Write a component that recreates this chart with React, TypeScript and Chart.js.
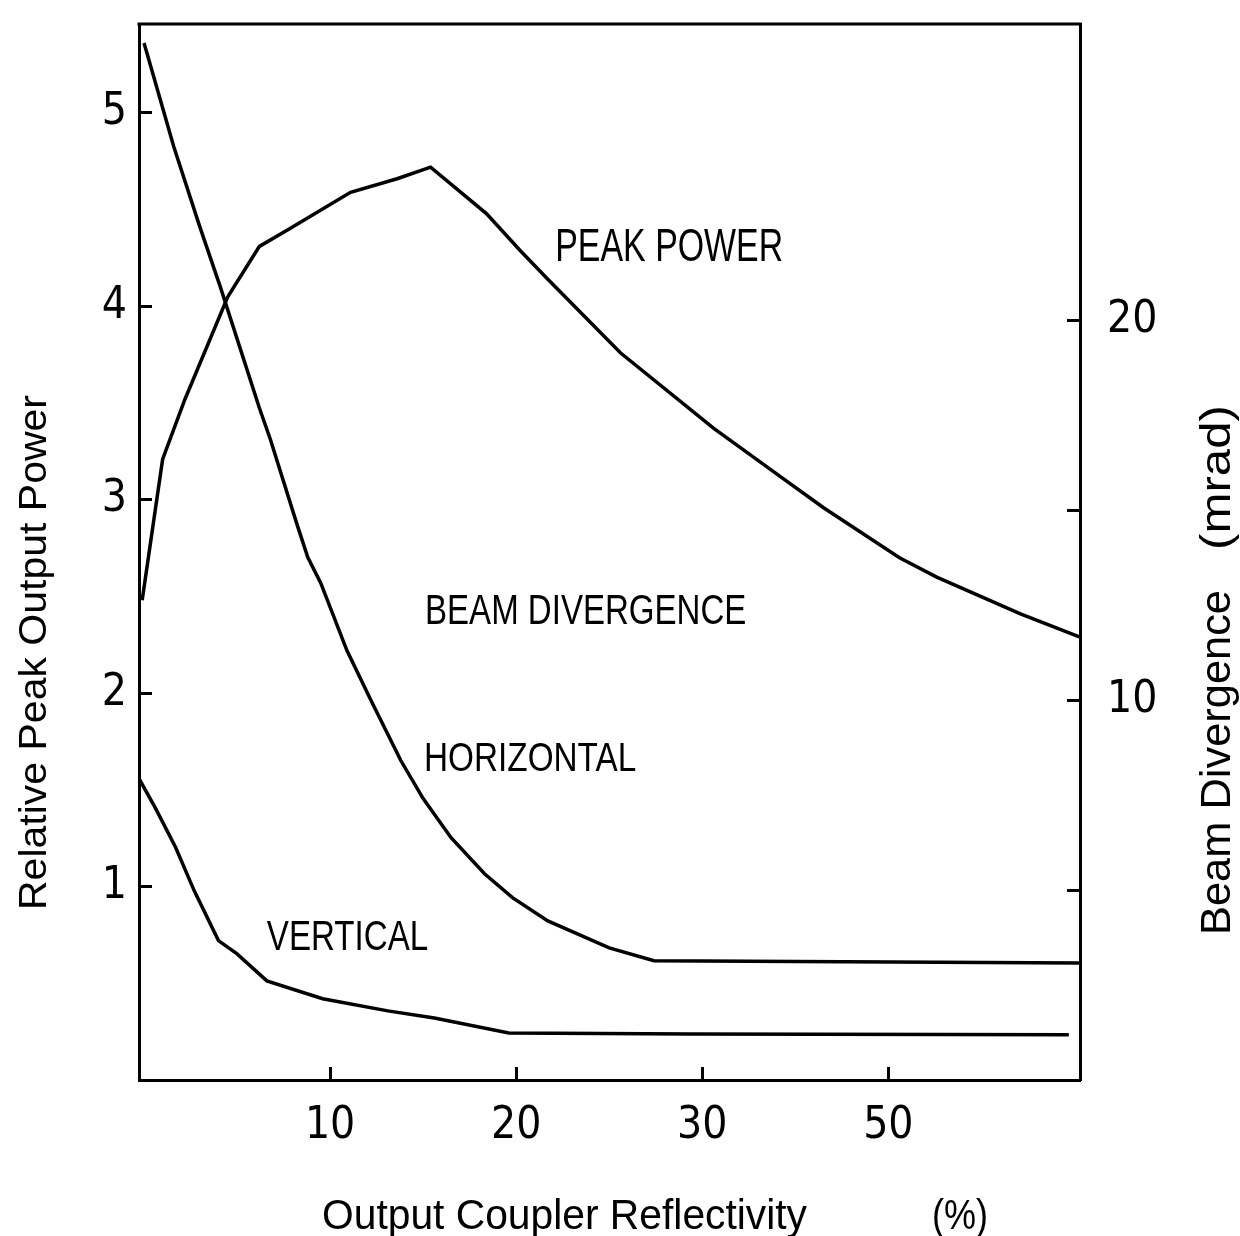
import React, { useEffect, useRef } from "react";
import { Chart, registerables } from "chart.js";

Chart.register(...registerables);

// x positions are in equally spaced category units: 1 -> 10 %, 2 -> 20 %, 3 -> 30 %, 4 -> 50 %
const xTickValues = [1, 2, 3, 4];
const xTickLabels = ["10", "20", "30", "50"];
const leftTickValues = [1, 2, 3, 4, 5];
const rightTickValues = [5, 10, 15, 20];
const rightTickLabels = ["", "10", "", "20"];

// Relative peak output power (left axis)
const peakX = [-0.01, 0.1, 0.22, 0.45, 0.62, 0.78, 1.11, 1.36, 1.54, 1.84, 2.02, 2.17, 2.56, 3.06, 3.42, 3.65, 4.06, 4.26, 4.71, 5.03];
const peakPower = [2.48, 3.21, 3.52, 4.05, 4.31, 4.4, 4.59, 4.66, 4.72, 4.48, 4.29, 4.14, 3.76, 3.37, 3.12, 2.96, 2.7, 2.6, 2.41, 2.29];

// Horizontal beam divergence, mrad (right axis)
const horizX = [0.0, 0.16, 0.3, 0.41, 0.62, 0.68, 0.82, 0.88, 0.95, 1.09, 1.22, 1.38, 1.5, 1.65, 1.83, 1.98, 2.17, 2.5, 2.74, 5.03];
const horizDiv = [27.3, 24.57, 22.46, 20.88, 17.69, 16.85, 14.66, 13.76, 13.08, 11.31, 9.99, 8.41, 7.41, 6.38, 5.43, 4.8, 4.19, 3.48, 3.14, 3.08];

// Vertical beam divergence, mrad (right axis)
const vertX = [-0.03, 0.06, 0.17, 0.27, 0.4, 0.5, 0.66, 0.96, 1.31, 1.56, 1.96, 2.94, 4.97];
const vertDiv = [7.96, 7.17, 6.12, 4.98, 3.67, 3.32, 2.61, 2.14, 1.82, 1.63, 1.24, 1.21, 1.19];

const annotations = [
  { text: "PEAK POWER", u0: 2.21, u1: 3.435, v: 4.235, cap: 33 },
  { text: "BEAM DIVERGENCE", u0: 1.51, u1: 3.237, v: 2.36, cap: 30 },
  { text: "HORIZONTAL", u0: 1.505, u1: 2.645, v: 1.6, cap: 29 },
  { text: "VERTICAL", u0: 0.66, u1: 1.527, v: 0.67, cap: 31 },
];

const TEXT_FONT = "'Liberation Sans', Arial, sans-serif";
const TICK_FONT = "'Liberation Sans Narrow', 'DejaVu Sans Condensed', 'Liberation Sans', sans-serif";

function drawFit(ctx: CanvasRenderingContext2D, text: string, x: number, y: number, w: number, cap: number, rot: number) {
  const size = cap / 0.716;
  ctx.save();
  ctx.font = `${size}px ${TEXT_FONT}`;
  const m = ctx.measureText(text).width || 1;
  ctx.translate(x, y);
  ctx.rotate(rot);
  ctx.scale(w / m, 1);
  ctx.textAlign = "left";
  ctx.textBaseline = "alphabetic";
  ctx.fillStyle = "#000";
  ctx.fillText(text, 0, 0);
  ctx.restore();
}

const textPlugin = {
  id: "plotTexts",
  beforeDraw(chart: any) {
    const ctx = chart.ctx;
    ctx.save();
    ctx.fillStyle = "#fff";
    ctx.fillRect(0, 0, chart.width, chart.height);
    ctx.restore();
  },
  afterDraw(chart: any) {
    const ctx: CanvasRenderingContext2D = chart.ctx;
    const xs = chart.scales.x;
    const ys = chart.scales.y;
    const { left, right, top } = chart.chartArea;
    // top frame line
    ctx.save();
    ctx.strokeStyle = "#000";
    ctx.lineWidth = 3;
    ctx.beginPath();
    ctx.moveTo(left - 1.5, top);
    ctx.lineTo(right + 1.5, top);
    ctx.stroke();
    ctx.restore();

    for (const a of annotations) {
      const x0 = xs.getPixelForValue(a.u0);
      const x1 = xs.getPixelForValue(a.u1);
      const y = ys.getPixelForValue(a.v);
      drawFit(ctx, a.text, x0, y, x1 - x0, a.cap, 0);
    }
    // axis titles
    drawFit(ctx, "Relative Peak Output Power", 46, 910, 515, 28, -Math.PI / 2);
    drawFit(ctx, "Beam Divergence", 1230, 935, 345, 30, -Math.PI / 2);
    drawFit(ctx, "(mrad)", 1230, 550, 145, 30, -Math.PI / 2);
    drawFit(ctx, "Output Coupler Reflectivity", 322, 1229, 485, 30, 0);
    drawFit(ctx, "(%)", 932, 1229, 56, 30, 0);
  },
};

const axisGrid = {
  drawOnChartArea: false,
  drawTicks: true,
  tickLength: -13,
  tickWidth: 3,
  tickColor: "#000",
};
const axisBorder = { display: true, color: "#000", width: 3 };

const noPad = (s: any) => {
  s.paddingTop = 0;
  s.paddingBottom = 0;
  s.paddingLeft = 0;
  s.paddingRight = 0;
};

export default function App() {
  const ref = useRef<HTMLCanvasElement | null>(null);

  useEffect(() => {
    document.body.style.margin = "0";
    const canvas = ref.current;
    if (!canvas) return;
    const line = (data: number[], xs: number[], axis: string) => ({
      data: xs.map((x, i) => ({ x, y: data[i] })),
      yAxisID: axis,
      borderColor: "#000",
      borderWidth: 3.5,
      pointRadius: 0,
      tension: 0,
      fill: false,
    });
    const chart = new Chart(canvas, {
      type: "line",
      data: {
        datasets: [
          { label: "Peak power", ...line(peakPower, peakX, "y") },
          { label: "Horizontal", ...line(horizDiv, horizX, "y2") },
          { label: "Vertical", ...line(vertDiv, vertX, "y2") },
        ] as any,
      },
      options: {
        animation: false,
        responsive: false,
        devicePixelRatio: 1,
        layout: { padding: { top: 24, left: 0, right: 0, bottom: 0 } },
        plugins: { legend: { display: false }, tooltip: { enabled: false } },
        scales: {
          x: {
            type: "linear",
            min: -0.027,
            max: 5.03,
            grid: axisGrid,
            border: axisBorder,
            afterBuildTicks: (s: any) => {
              s.ticks = xTickValues.map((v) => ({ value: v }));
            },
            afterFit: (s: any) => {
              s.height = 156;
              noPad(s);
            },
            ticks: {
              padding: 33,
              color: "#000",
              font: { family: TICK_FONT, size: 44 },
              maxRotation: 0,
              callback: (v: any) => xTickLabels[xTickValues.indexOf(Number(v))] ?? "",
            },
          },
          y: {
            type: "linear",
            position: "left",
            min: 0,
            max: 5.46,
            grid: axisGrid,
            border: axisBorder,
            afterBuildTicks: (s: any) => {
              s.ticks = leftTickValues.map((v) => ({ value: v }));
            },
            afterFit: (s: any) => {
              s.width = 139;
              noPad(s);
            },
            ticks: {
              padding: 25,
              color: "#000",
              font: { family: TICK_FONT, size: 44 },
              callback: (v: any) => String(v),
            },
          },
          y2: {
            type: "linear",
            position: "right",
            min: 0,
            max: 27.8,
            grid: axisGrid,
            border: axisBorder,
            afterBuildTicks: (s: any) => {
              s.ticks = rightTickValues.map((v) => ({ value: v }));
            },
            afterFit: (s: any) => {
              s.width = 160;
              noPad(s);
            },
            ticks: {
              padding: 40,
              color: "#000",
              font: { family: TICK_FONT, size: 44 },
              callback: (v: any) => rightTickLabels[rightTickValues.indexOf(Number(v))] ?? "",
            },
          },
        },
      } as any,
      plugins: [textPlugin],
    });
    return () => chart.destroy();
  }, []);

  return (
    <div style={{ width: 1240, height: 1236 }}>
      <canvas ref={ref} width={1240} height={1236} style={{ display: "block" }} />
    </div>
  );
}
